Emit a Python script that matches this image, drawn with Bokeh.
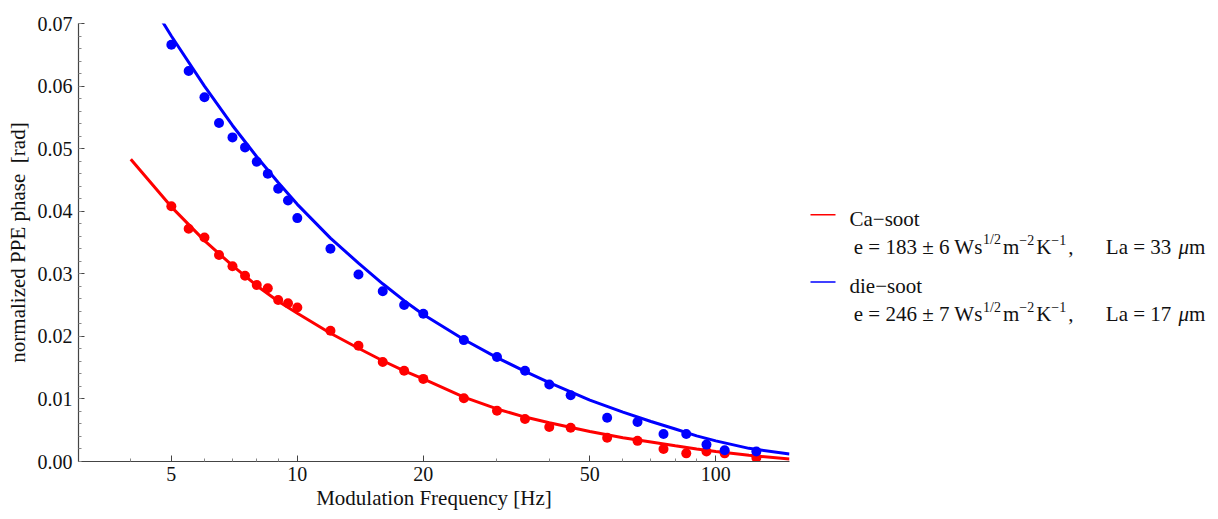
from bokeh.plotting import figure
from bokeh.layouts import row
from bokeh.models import FixedTicker, PrintfTickFormatter, Range1d
from bokeh.embed import file_html
from bokeh.resources import INLINE
from bokeh.core.properties import value

# ---------------- data ----------------
freq = [5, 5.5, 6, 6.5, 7, 7.5, 8, 8.5, 9, 9.5, 10, 12, 14, 16, 18, 20,
        25, 30, 35, 40, 45, 55, 65, 75, 85, 95, 105, 125]
ca_phase = [0.0408, 0.0372, 0.0358, 0.0330, 0.0312, 0.0297, 0.0282, 0.0277,
            0.0258, 0.0253, 0.0246, 0.0209, 0.0185, 0.0159, 0.0145, 0.0132,
            0.0101, 0.0081, 0.0068, 0.0055, 0.0054, 0.0038, 0.0033, 0.0020,
            0.0013, 0.0016, 0.0013, 0.0006]
die_phase = [0.0666, 0.0624, 0.0582, 0.0541, 0.0518, 0.0502, 0.0479, 0.0460,
             0.0436, 0.0417, 0.0389, 0.0340, 0.0299, 0.0272, 0.0250, 0.0236,
             0.0194, 0.0167, 0.0145, 0.0123, 0.0106, 0.0070, 0.0063, 0.0044,
             0.0044, 0.0027, 0.0018, 0.0016]

fit_freq = [4, 5, 6, 7, 8, 9, 10, 12, 14, 16, 18, 20, 25, 30, 35, 40,
            50, 60, 70, 80, 90, 100, 120, 150]
ca_fit = [0.0483, 0.0407, 0.0353, 0.0313, 0.0281, 0.0256, 0.0237, 0.0205,
          0.0181, 0.0161, 0.0145, 0.0132, 0.0103, 0.0084, 0.0071, 0.0062,
          0.0048, 0.0038, 0.0031, 0.0025, 0.0020, 0.0016, 0.0010, 0.0004]
die_fit = [0.0785, 0.0680, 0.0600, 0.0537, 0.0487, 0.0446, 0.0411, 0.0357,
           0.0317, 0.0284, 0.0257, 0.0235, 0.0195, 0.0166, 0.0144, 0.0126,
           0.0098, 0.0079, 0.0064, 0.0052, 0.0041, 0.0033, 0.0021, 0.0012]

x_major = [5, 10, 20, 50, 100]
x_minor = [3, 4, 6, 7, 8, 9, 30, 40, 60, 70, 80, 90]
y_major = [0.00, 0.01, 0.02, 0.03, 0.04, 0.05, 0.06, 0.07]

series_names = ["Ca\u2212soot", "die\u2212soot"]
series_e = ["183", "246"]
series_err = ["6", "7"]
series_La = ["33", "17"]
series_colors = ["#FF0000", "#0000FF"]

FONT = "Liberation Serif"
H = 515

# ---------------- main plot ----------------
p = figure(x_axis_type="log", x_range=Range1d(3, 150), y_range=Range1d(0, 0.07),
           width=799, height=H,
           min_border_left=78, min_border_right=10, min_border_top=23,
           min_border_bottom=H - 23 - 438,
           output_backend="svg", toolbar_location=None, sizing_mode="fixed")
p.outline_line_color = None
p.grid.visible = False
p.background_fill_color = "white"
p.border_fill_color = "white"

p.line(fit_freq, ca_fit, line_color=series_colors[0], line_width=3)
p.line(fit_freq, die_fit, line_color=series_colors[1], line_width=3)
p.scatter(freq, ca_phase, size=10, fill_color=series_colors[0], line_color=None)
p.scatter(freq, die_phase, size=10, fill_color=series_colors[1], line_color=None)

y_minor = [round(i * 0.002, 4) for i in range(36)]
p.xaxis.ticker = FixedTicker(ticks=x_major, minor_ticks=x_minor)
p.xaxis.major_label_overrides = {v: str(v) for v in x_major}
p.yaxis.ticker = FixedTicker(ticks=y_major, minor_ticks=y_minor)
p.yaxis.formatter = PrintfTickFormatter(format="%.2f")

for ax in (p.xaxis, p.yaxis):
    ax.axis_line_color = "#444444"
    ax.axis_line_width = 1.2
    ax.major_tick_in = 6
    ax.major_tick_out = 0
    ax.minor_tick_in = 3
    ax.minor_tick_out = 0
    ax.major_tick_line_color = "#444444"
    ax.minor_tick_line_color = "#888888"
    ax.major_label_text_font = FONT
    ax.major_label_text_font_size = "20px"
    ax.major_label_text_color = "#111111"
    ax.axis_label_text_font = FONT
    ax.axis_label_text_font_size = "21px"
    ax.axis_label_text_font_style = "normal"
    ax.axis_label_text_color = "#111111"

p.xaxis.axis_label = "Modulation Frequency [Hz]"
p.yaxis.axis_label = "normalized PPE phase \u00a0[rad]"
p.xaxis.major_label_standoff = 5
p.xaxis.axis_label_standoff = 2
p.yaxis.major_label_standoff = 6

# ---------------- legend panel (coordinates ~ page pixels minus x offset) ----------------
LW = 411
LY = 488   # vertical extent of the legend panel's drawing area
leg = figure(width=LW, height=H, x_range=Range1d(0, LW), y_range=Range1d(LY, 0),
             min_border=0, x_axis_location=None, y_axis_location=None,
             output_backend="svg", toolbar_location=None, sizing_mode="fixed")
leg.outline_line_color = None
leg.grid.visible = False

WIDTHS = {' ': 250, 'e': 444, '=': 564, '\u00b1': 564, 'W': 944, 's': 389,
          '/': 278, 'm': 778, '\u2212': 564, 'K': 722, ',': 250, 'L': 611,
          'a': 444, '\u03bc': 500}
for d in "0123456789":
    WIDTHS[d] = 500


def tw(s, size):
    return sum(WIDTHS.get(c, 500) for c in s) * size / 1000.0


MAIN, SUP, RAISE, SUP_GAP = 21, 14, 8, 2.0
# (legend line y, title baseline, second line baseline)
entry_pos = [(213.0, 218.0, 249.0), (288.0, 293.0, 324.0)]

for i in range(2):
    ly, tb, lb = entry_pos[i]
    leg.line([11, 36], [ly, ly], line_color=series_colors[i], line_width=1.5)
    leg.text([50], [tb], text=[series_names[i]], text_font=value(FONT),
             text_font_size=value("21px"), text_baseline="alphabetic",
             text_align="left", text_color="#111111")
    segs = [("e = %s \u00b1 %s Ws" % (series_e[i], series_err[i]), False),
            ("1/2", True), ("m", False), ("\u22122", True), ("K", False),
            ("\u22121", True), (",", False)]
    x = 54.3
    xs, ys, ts, fs = [], [], [], []
    for t, sup in segs:
        size = SUP if sup else MAIN
        xs.append(x)
        ys.append(lb - RAISE if sup else lb)
        ts.append(t)
        fs.append("%dpx" % size)
        x += tw(t, size) + (SUP_GAP if sup else 0)
    x_la = 54.3 + 252.0
    t_la = "La = %s " % series_La[i]
    xs.append(x_la); ys.append(lb); ts.append(t_la); fs.append("21px")
    x_mu = x_la + tw(t_la, MAIN) + 2
    leg.text(xs, ys, text=ts, text_font=value(FONT), text_font_size=fs,
             text_baseline="alphabetic", text_align="left", text_color="#111111")
    leg.text([x_mu], [lb], text=["\u03bc"], text_font=value(FONT),
             text_font_size=value("21px"), text_font_style="italic",
             text_baseline="alphabetic", text_align="left", text_color="#111111")
    leg.text([x_mu + 10.5], [lb], text=["m"], text_font=value(FONT),
             text_font_size=value("21px"), text_baseline="alphabetic",
             text_align="left", text_color="#111111")

layout = row(p, leg, sizing_mode="fixed")
open("out.html", "w").write(file_html(layout, INLINE))
